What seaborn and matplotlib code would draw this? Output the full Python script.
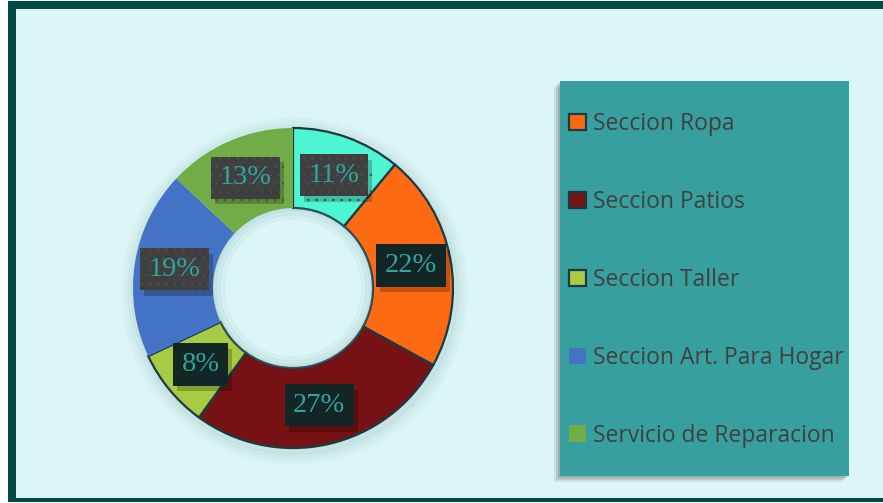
import matplotlib
matplotlib.use("Agg")
import matplotlib.pyplot as plt
import matplotlib.patheffects as pe
import seaborn as sns
import numpy as np
from matplotlib.patches import Rectangle, Wedge

# datos
categorias = ["Otros", "Seccion Ropa", "Seccion Patios", "Seccion Taller",
              "Seccion Art. Para Hogar", "Servicio de Reparacion"]
porcentajes = [11, 22, 27, 8, 19, 13]
colores = ["#4EF5D2", "#FD6A14", "#771214", "#A8CB44", "#4472C4", "#70AD47"]
bordes = ["#1C3A44", "#1C3A44", "#1C3A44", "#1C3A44", "none", "none"]
cajas = ["#3F3F3F", "#122626", "#122626", "#122626", "#3F3F3F", "#3F3F3F"]

sns.set_theme(style="white")
plt.rcParams["hatch.linewidth"] = 0.6

W, H = 883, 503
fig = plt.figure(figsize=(W / 100, H / 100), dpi=100)
fig.patch.set_facecolor("white")

def px(x0, y0, w, h):
    # rectangulo en pixeles (origen arriba a la izquierda) -> fraccion de figura
    return (x0 / W, 1 - (y0 + h) / H, w / W, h / H)

def rect(x0, y0, w, h, **kw):
    l, b, ww, hh = px(x0, y0, w, h)
    r = Rectangle((l, b), ww, hh, transform=fig.transFigure, edgecolor="none", **kw)
    fig.patches.append(r)
    return r

# marco exterior
rect(8, 1, 900, 501, facecolor="#004A48", zorder=0)
rect(16, 9, 900, 489, facecolor="#DCF6F6", zorder=0)

# caja de la leyenda con sombra
for d, a in [(6, 0.08), (4, 0.10), (2, 0.14)]:
    rect(560 - d, 81 + d, 289, 395, facecolor="black", alpha=a, zorder=1)
rect(560, 81, 289, 395, facecolor="#37A09F", zorder=2)

# dona
ax = fig.add_axes(px(133, 128, 320, 320))
ax.set_zorder(3)
ax.set_facecolor("none")
# resplandor suave alrededor del anillo y dentro del hueco
for r, w, a in [(1.08, 0.12, 0.035), (1.06, 0.10, 0.045), (1.04, 0.08, 0.06), (1.02, 0.06, 0.07)]:
    ax.add_patch(Wedge((0.01, -0.02), r, 0, 360, width=w, color="#6F9FA5",
                       alpha=a, zorder=0, clip_on=False))
for w, a in [(0.07, 0.06), (0.045, 0.07), (0.02, 0.08)]:
    ax.add_patch(Wedge((0, 0), 0.5, 0, 360, width=w, color="#6F9FA5",
                       alpha=a, zorder=3, clip_on=False))

wedges, _ = ax.pie(porcentajes, colors=colores, startangle=90, counterclock=False,
                   radius=1.0, wedgeprops=dict(width=0.5, linewidth=1.6))
for w, b in zip(wedges, bordes):
    w.set_edgecolor(b)
    w.set_zorder(2)
    w.set_clip_on(False)

# etiquetas de porcentaje
inicio = 90.0
total = sum(porcentajes)
for valor, caja in zip(porcentajes, cajas):
    ang = np.deg2rad(inicio - valor / total * 180.0)
    inicio -= valor / total * 360.0
    x, y = 0.75 * np.cos(ang), 0.75 * np.sin(ang)
    bb = dict(boxstyle="square,pad=0.3", facecolor=caja, linewidth=0)
    if caja == "#3F3F3F":
        bb.update(hatch="..", edgecolor="#4E4E4E")
    t = ax.text(x, y, f"{valor}%", ha="center", va="center", fontsize=20.5,
                family="Liberation Serif", color="#2FA5A0", bbox=bb, zorder=4)
    t.get_bbox_patch().set_path_effects(
        [pe.SimplePatchShadow(offset=(3, -4), shadow_rgbFace="black", alpha=0.22),
         pe.Normal()])

ax.set_xlim(-1, 1)
ax.set_ylim(-1, 1)
ax.set_aspect("equal")
ax.axis("off")

# leyenda (sin la primera categoria, como en el original)
ley = fig.legend(wedges[1:], categorias[1:], loc="upper left",
                 bbox_to_anchor=(569 / W, 1 - 112 / H), frameon=False,
                 prop=dict(family="Open Sans", size=16.5), labelcolor="#404040",
                 labelspacing=2.355, handlelength=0.75, handleheight=0.75,
                 handletextpad=0.3, borderaxespad=0, borderpad=0)
ley.set_zorder(5)

fig.savefig("out.png", dpi=100, facecolor=fig.get_facecolor())
